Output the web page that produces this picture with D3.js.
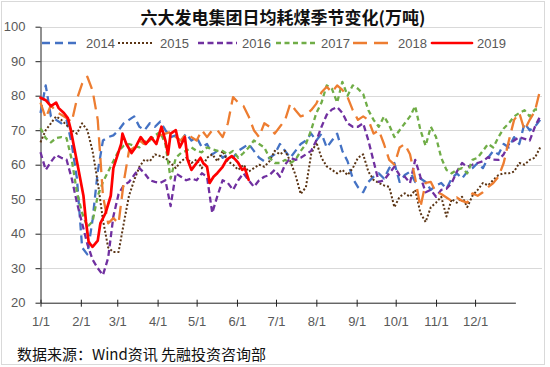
<!DOCTYPE html>
<html><head><meta charset="utf-8">
<script src="https://cdn.jsdelivr.net/npm/d3@7"></script>
<style>body{margin:0;background:#fff} svg{display:block}</style>
</head><body>
<svg id="c" width="550" height="367"></svg>
<script>
// ---- data ----
const days = [0,4,8,12,16,20,24,28,32,36,40,44,48,52,56,60,64,68,72,76,80,84,88,92,96,100,104,108,112,116,120,124,128,132,136,140,144,148,152,156,160,164,168,172,176,180,184,188,192,196,200,204,208,212,216,220,224,228,232,236,240,244,248,252,256,260,264,268,272,276,280,284,288,292,296,300,304,308,312,316,320,324,328,332,336,340,344,348,352,356,360,364,368,372,376,380,384];
const monthDays = [0,31,59,90,120,151,181,212,243,273,304,334];
const monthLabels = ["1/1","2/1","3/1","4/1","5/1","6/1","7/1","8/1","9/1","10/1","11/1","12/1"];
const yTicks = [20,30,40,50,60,70,80,90,100];

const v2014 = [75,83,74,73,72,73,66,56,36,34,44,58,67,68,68.5,70,72,73,74,71,70,72,71,72.5,70,68,68.5,67,69,67,68,65,66,63,64,62,63,62,64,65,66,64,62,61,62,63,66,64,62,64,66,67,69,67,69,65,67,69,64,61,56,53.5,52,55,56.5,57.5,56,59,60.5,55,57,58,55,56,55,52.7,54,54.7,53,56,57.5,56,58,59,60.5,59,62,64,63,66,65,68,66,72,70,71,73];
const v2015 = [66.5,70,72,74,73,71.5,70,69,72,70,64,55,44,36,34.7,34.7,43,51,55.5,59.4,61.5,61,63,62.5,62,60.5,59,61,62,60.5,61.5,59,62,63,61,64,61,60,58.5,60,58,59,60,59.4,61,64,63,64,61,57,51.5,53.5,63,66.5,62,59.5,58.5,57.5,58.5,57,59,62,63,58,55.6,54.7,54,53.6,47.7,50.7,51.7,50.7,52.7,46,43.4,47.7,49,50.7,45,50,49,50.7,47.7,51,52.7,54.7,54,55.6,57,57.5,57.5,58,60.5,60,61.4,62,65];
const v2016 = [63.6,58.5,60.8,62.8,62,61.5,56,49,43,37,32.5,30,28,33,45,51.5,54,55,57,59,57.5,55.5,55,54.7,55.5,48,57.5,56.5,55.5,56,55.5,57.5,56.5,46,51,55.5,54.7,52.7,55.5,57.5,55.5,53.6,55.5,56.5,57,58.5,56.5,60,62,61.4,62,63,64,67,71,74.5,76,76.7,75,72,71,71,72,67,61,55,55.5,57.5,59.4,57,56.5,54.7,61.4,56.5,52,52.7,50.7,52.7,53,54.7,58,60.5,59.4,60,60.5,61,62.2,61.5,61.4,63,66,67,68,67.5,67,71,74];
const v2017 = [70.6,67.7,66.5,67.7,68,67.7,61.5,52,46,42,43.5,51,55,58,61,64,65.5,66,65.5,65,66.6,67,68.5,69.5,66,56,62,63.4,64,65,64,63.6,65,64.5,64,64,63,64,62,63.4,65,67,66,65,62,60.5,60.5,61.4,60.5,61.4,64,66,70,75,78,83,82,78,84,80,83,82,80.5,75.8,73,71,74,71.5,68,70,72,74,77,70,65.5,71,68,62,58.5,57.5,58.5,59,57.5,61.4,62,64,66,65,68,70.5,72,74,75,75.8,74,76,76];
const v2018 = [78,73.5,77.3,75.3,74.5,73.5,72.4,79,83.5,85.5,81.5,73,51,43,44.5,43,55,64,65,67,66,67,68,68.5,69,69.5,68,67,69,68,67,70,68,70,70,68,72,79.6,78,77,74,70,68,72,71,69,71,73,77.7,75.8,74,74.5,75.8,77.7,81,82.6,81,83,81.7,79.6,75.8,73,74,73,69,70,66,61.4,60,65,66,63,56,47.7,54.7,55,52,51.5,50.5,49.5,50.5,49.5,49,51.7,51,52,53.5,54.7,56.5,60.5,67,73,75,70,73,75.5,81.7];
const days2019 = [0,4,8,12,14,18,21,23,26,29,33,35,37,40,44,46,50,54,56,60,62,63,66,70,73,77,81,85,89,93,96,98,100,104,107,111,113,116,120,123,125,128,130,133,136,140,143,147,150,152,155,157,160];
const v2019 = [79.4,78.7,77,78,76.4,75,73.5,70.6,64.8,59,51,43.4,37.6,36.2,38,43,46,51,59,63.7,66,69,66,63.4,65,68,66,68,66,71,67,63,69,70,65,68,61.5,58.5,60.5,62,60.5,59.4,54.7,56.5,57.6,59.4,61.4,62.5,61.4,60.5,58.5,59,55.6];

const seriesNames = ["2014","2015","2016","2017","2018","2019"];
const seriesColors = ["#4472C4","#5B3515","#7030A0","#70AD47","#ED7D31","#FF0000"];

// ---- drawing ----
const svg = d3.select("#c");
const x = d3.scaleLinear().domain([0,365]).range([40.5,515.4]);
const y = d3.scaleLinear().domain([20,100]).range([302.7,26.7]);
const plotRight = 542;

svg.append("rect").attr("x",1.5).attr("y",1.5).attr("width",543).attr("height",363)
  .attr("fill","#fff").attr("stroke","#d9d9d9").attr("stroke-width",1);

// gridlines
svg.append("g").selectAll("line").data(yTicks.filter(t=>t>20)).join("line")
  .attr("x1",x(0)).attr("x2",plotRight)
  .attr("y1",d=>Math.round(y(d))+0.5).attr("y2",d=>Math.round(y(d))+0.5)
  .attr("stroke","#d9d9d9").attr("stroke-width",1);

// y axis
const ya = svg.append("g").attr("transform",`translate(${x(0)},0)`)
  .call(d3.axisLeft(y).tickValues(yTicks).tickSize(5).tickSizeOuter(0).tickPadding(10));
ya.select(".domain").attr("stroke","#222");
ya.selectAll(".tick line").attr("stroke","#222");
ya.selectAll("text").attr("font-family","Liberation Sans, Arial, sans-serif").attr("font-size",13).attr("fill","#595959");

// x axis
const xa = svg.append("g").attr("transform",`translate(0,${y(20)})`)
  .call(d3.axisBottom(x).tickValues(monthDays).tickFormat((d,i)=>monthLabels[i]).tickSize(4).tickSizeOuter(0).tickPadding(10));
xa.select(".domain").attr("stroke","#222");
xa.selectAll(".tick line").attr("stroke","#222").attr("y1",-3);
xa.selectAll("text").attr("font-family","Liberation Sans, Arial, sans-serif").attr("font-size",13).attr("fill","#595959");

const line = d3.line().x(d=>x(d[0])).y(d=>y(d[1]));
const styles = [
  {dash:"8,5", w:2.3, cap:"butt"},
  {dash:"2,2", w:2, cap:"butt"},
  {dash:"6,3.5", w:2.3, cap:"butt"},
  {dash:"5,3.5", w:2.3, cap:"butt"},
  {dash:"14,7", w:2.3, cap:"butt"},
  {dash:null, w:2.7, cap:"round"}
];
const seriesData = [
  days.map((d,i)=>[d,v2014[i]]),
  days.map((d,i)=>[d,v2015[i]]),
  days.map((d,i)=>[d,v2016[i]]),
  days.map((d,i)=>[d,v2017[i]]),
  days.map((d,i)=>[d,v2018[i]]),
  days2019.map((d,i)=>[d,v2019[i]])
];
seriesData.forEach((data,i)=>{
  svg.append("path").attr("d",line(data)).attr("fill","none")
    .attr("stroke",seriesColors[i]).attr("stroke-width",styles[i].w)
    .attr("stroke-dasharray",styles[i].dash).attr("stroke-linecap",styles[i].cap)
    .attr("stroke-linejoin","round");
});

// legend
const legX = [[42,80,86],[118,153,160],[198,237,242],[276,315,321],[353,393,398],[432,472,477]];
const lg = svg.append("g");
seriesNames.forEach((n,i)=>{
  lg.append("line").attr("x1",legX[i][0]).attr("x2",legX[i][1]).attr("y1",43).attr("y2",43)
    .attr("stroke",seriesColors[i]).attr("stroke-width",styles[i].w)
    .attr("stroke-dasharray",styles[i].dash).attr("stroke-linecap",styles[i].cap);
  lg.append("text").attr("x",legX[i][2]).attr("y",47.5).text(n)
    .attr("font-family","Liberation Sans, Arial, sans-serif").attr("font-size",13).attr("fill","#595959");
});

// title
svg.append("text").attr("x",283).attr("y",24).attr("text-anchor","middle")
  .attr("font-family","Noto Sans CJK SC, sans-serif").attr("font-weight","bold").attr("font-size",17)
  .attr("fill","#111").text("六大发电集团日均耗煤季节变化(万吨)");

// source
svg.append("text").attr("x",17).attr("y",360)
  .attr("font-family","Noto Sans CJK SC, sans-serif").attr("font-size",15)
  .attr("fill","#111").text("数据来源：Wind资讯 先融投资咨询部");
</script>
</body></html>
